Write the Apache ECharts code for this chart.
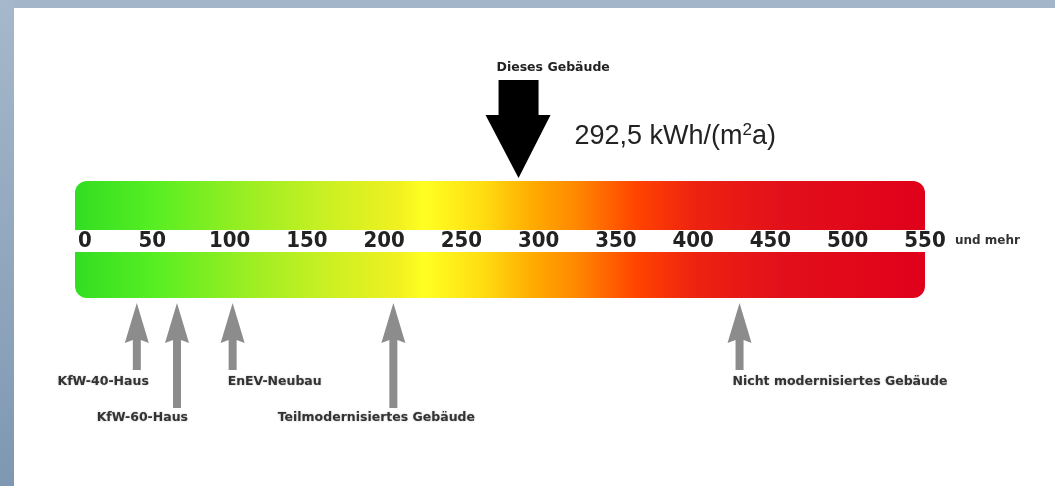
<!DOCTYPE html>
<html>
<head>
<meta charset="utf-8">
<style>
html,body{margin:0;padding:0;background:#fff;}
#chart{width:1055px;height:486px;}
</style>
<script src="https://cdn.jsdelivr.net/npm/echarts@6.0.0/dist/echarts.min.js"></script>
</head>
<body>
<div id="chart"></div>
<script>
// Skala (kWh/(m²a))
var scaleMin = 0;
var scaleMax = 550;
var tickStep = 50;

// Dieses Gebäude: Pfeilposition wie im Bild, Beschriftung wie im Bild
var buildingPos = 287;
var buildingValueText = '292,5';

// Vergleichswerte unter der Skala
var refNames = ['KfW-40-Haus', 'KfW-60-Haus', 'EnEV-Neubau', 'Teilmodernisiertes Gebäude', 'Nicht modernisiertes Gebäude'];
var refValues = [40, 66, 102, 206, 430];

var myChart = echarts.init(document.getElementById('chart'));

// Beschriftung der grauen Pfeile: Zeile (kurz/lang), Ausrichtung, Versatz
var refRow = [0, 1, 0, 1, 0];
var refAlign = ['right', 'right', 'left', 'center', 'left'];
var refDx = [12, 11, -5, -17, -7];

var labelFont = 'bold 12.5px "DejaVu Sans"';

function scaleGradient() {
    return new echarts.graphic.LinearGradient(0, 0, 1, 0, [
        {offset: 0, color: '#33dd22'},
        {offset: 0.09, color: '#55ee22'},
        {offset: 0.2, color: '#99ee22'},
        {offset: 0.3, color: '#ccf022'},
        {offset: 0.38, color: '#f0f020'},
        {offset: 0.41, color: '#ffff22'},
        {offset: 0.48, color: '#ffdd11'},
        {offset: 0.54, color: '#ffaa00'},
        {offset: 0.59, color: '#ff8800'},
        {offset: 0.66, color: '#ff4400'},
        {offset: 0.73, color: '#ee2211'},
        {offset: 0.83, color: '#e2101a'},
        {offset: 1, color: '#e0001a'}
    ]);
}

function renderScale(params, api) {
    var a = api.coord([api.value(0), 1]);
    var b = api.coord([api.value(1), 0]);
    var w = b[0] - a[0];
    var h = b[1] - a[1];
    return {
        type: 'group',
        children: [
            {type: 'rect', shape: {x: a[0], y: a[1], width: w, height: 49, r: [12, 12, 0, 0]}, style: {fill: scaleGradient()}},
            {type: 'rect', shape: {x: a[0], y: a[1] + 71, width: w, height: h - 71, r: [0, 0, 12, 12]}, style: {fill: scaleGradient()}}
        ]
    };
}

function renderBuilding(params, api) {
    var p = api.coord([api.value(0), 1]);
    var x = p[0], t = p[1] - 3;
    return {
        type: 'group',
        children: [
            {type: 'polygon', shape: {points: [
                [x, t], [x + 32, t - 63], [x + 20, t - 63], [x + 20, t - 98],
                [x - 20, t - 98], [x - 20, t - 63], [x - 33, t - 63]
            ]}, style: {fill: '#000'}},
            {type: 'text', x: x - 22, y: t - 110, style: {
                text: 'Dieses Gebäude', font: labelFont, fill: '#222',
                align: 'left', verticalAlign: 'middle'
            }},
            {type: 'text', x: x + 56, y: t - 41, style: {
                text: '{a|' + buildingValueText + ' kWh/(m}{s|2}{a|a)}',
                align: 'left', verticalAlign: 'middle',
                rich: {
                    a: {fontFamily: '"Liberation Sans"', fontSize: 27, fill: '#222', color: '#222'},
                    s: {fontFamily: '"Liberation Sans"', fontSize: 17, fill: '#222', color: '#222', padding: [0, 0, 13, 0]}
                }
            }}
        ]
    };
}

function renderRef(params, api) {
    var i = params.dataIndex;
    var p = api.coord([api.value(0), 0]);
    var x = p[0], tip = p[1] + 5;
    var long = refRow[i] === 1;
    var bottom = tip + (long ? 105 : 67);
    var labelY = tip + (long ? 115 : 79);
    return {
        type: 'group',
        children: [
            {type: 'polygon', shape: {points: [
                [x, tip], [x + 12, tip + 40], [x + 4, tip + 37], [x + 4, bottom],
                [x - 4, bottom], [x - 4, tip + 37], [x - 12, tip + 40]
            ]}, style: {fill: '#8c8c8c'}},
            {type: 'text', x: x + refDx[i], y: labelY, style: {
                text: refNames[i], font: labelFont, fill: '#333',
                align: refAlign[i], verticalAlign: 'middle',
                textShadowColor: 'rgba(0,0,0,0.25)', textShadowBlur: 2
            }}
        ]
    };
}

var option = {
    backgroundColor: '#fff',
    animation: false,
    graphic: [
        {type: 'rect', shape: {x: 0, y: 0, width: 1055, height: 8}, style: {fill: '#a3b5c8'}, z: -1},
        {type: 'rect', shape: {x: 0, y: 0, width: 14, height: 486}, style: {
            fill: new echarts.graphic.LinearGradient(0, 0, 0, 1, [
                {offset: 0, color: '#a6b8cb'},
                {offset: 1, color: '#7e98b2'}
            ])
        }, z: -1}
    ],
    grid: {left: 75, right: 130, top: 181, bottom: 188},
    xAxis: {
        type: 'value',
        min: scaleMin,
        max: scaleMax,
        interval: tickStep,
        offset: -57,
        axisLine: {show: false},
        axisTick: {show: false},
        splitLine: {show: false},
        axisLabel: {
            margin: 0,
            verticalAlign: 'middle',
            alignMinLabel: 'left',
            fontFamily: '"DejaVu Sans Condensed", "DejaVu Sans"',
            fontWeight: 'bold',
            fontSize: 22,
            color: '#222',
            formatter: function (v) {
                return v === scaleMin ? '{z|' + v + '}' : String(v);
            },
            rich: {
                z: {
                    fontFamily: '"DejaVu Sans Condensed", "DejaVu Sans"',
                    fontWeight: 'bold',
                    fontSize: 22,
                    color: '#222',
                    padding: [0, 0, 0, 3]
                }
            }
        },
        name: 'und mehr',
        nameLocation: 'end',
        nameGap: 30,
        nameTextStyle: {
            fontFamily: '"DejaVu Sans"',
            fontWeight: 'bold',
            fontSize: 12,
            color: '#333',
            verticalAlign: 'middle',
            align: 'left',
            padding: [6, 0, 0, 0]
        },
        z: 5
    },
    yAxis: {type: 'value', min: 0, max: 1, show: false},
    series: [
        {type: 'custom', clip: false, renderItem: renderScale, data: [[scaleMin, scaleMax]], z: 1},
        {type: 'custom', clip: false, renderItem: renderBuilding, data: [[buildingPos]], z: 3},
        {type: 'custom', clip: false, renderItem: renderRef, data: refValues.map(function (v) { return [v]; }), z: 3}
    ]
};

myChart.setOption(option);
</script>
</body>
</html>
